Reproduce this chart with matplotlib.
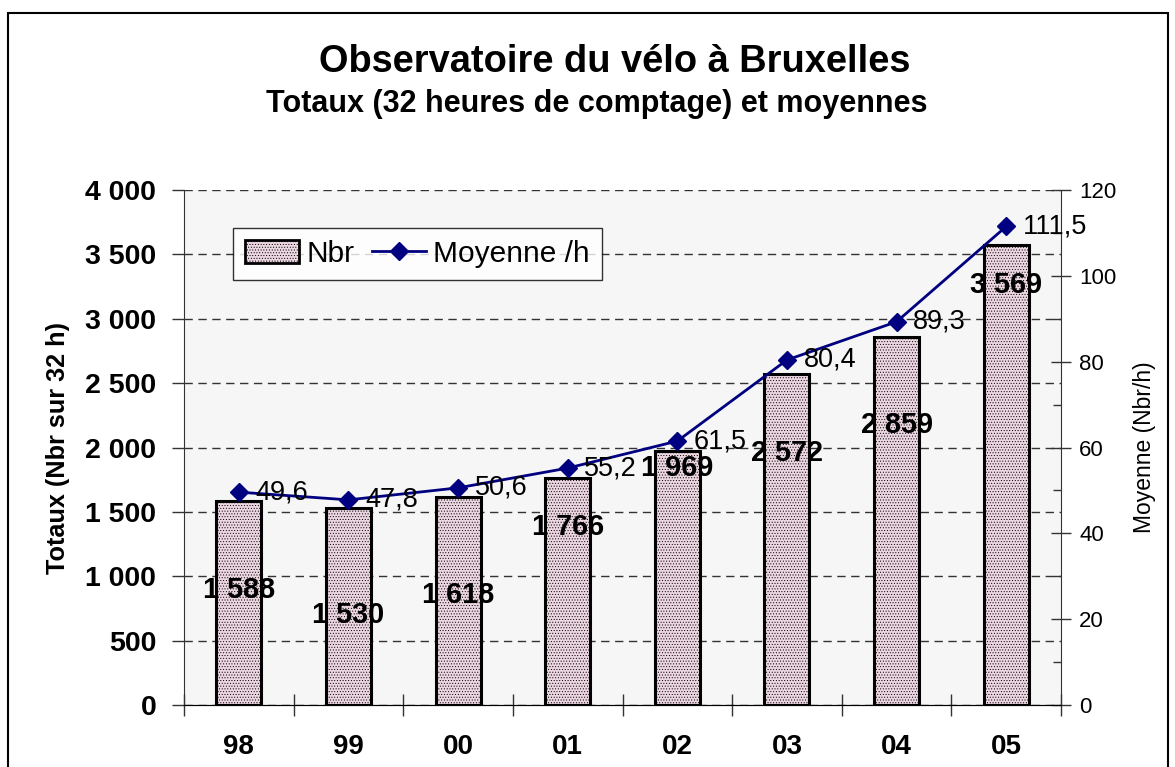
import numpy as np
import matplotlib.pyplot as plt
from matplotlib.patches import Rectangle, Patch
from matplotlib.lines import Line2D
from matplotlib.ticker import FuncFormatter, MultipleLocator

# Data
years = ["98", "99", "00", "01", "02", "03", "04", "05"]
totals = [1588, 1530, 1618, 1766, 1969, 2572, 2859, 3569]
means = [49.6, 47.8, 50.6, 55.2, 61.5, 80.4, 89.3, 111.5]

# where the bold total labels sit (in left-axis units), as placed in the original
total_label_y = [890, 700, 855, 1380, 1840, 1955, 2175, 3265]

plt.rcParams.update({
    "font.family": ["Liberation Sans", "DejaVu Sans"],
    "hatch.color": "#e0c4d2",
    "hatch.linewidth": 0.4,
})

BAR_COLOR = "#ecd6e1"
LINE_COLOR = "#000080"


def fmt_thousands(v, pos=None):
    return f"{int(v):,}".replace(",", " ")


def fmt_dec(v):
    return f"{v:.1f}".replace(".", ",")


fig = plt.figure(figsize=(11.75, 7.67), dpi=100)
ax = fig.add_axes([0.1566, 0.0808, 0.7464, 0.6715])
ax2 = ax.twinx()

# outer chart frame
fig.patches.append(Rectangle((0.0068, -0.05), 0.9872, 1.0332, transform=fig.transFigure,
                             fill=False, edgecolor="black", linewidth=1.5))

x = np.arange(len(years))
ax.set_facecolor("#f6f6f6")
ax.set_axisbelow(True)
ax.bar(x, totals, width=0.41, color=BAR_COLOR, edgecolor="black", linewidth=2.2,
       hatch="......", zorder=2)

ax.set_xlim(-0.5, len(years) - 0.5)
ax.set_ylim(0, 4000)
ax.yaxis.set_major_locator(MultipleLocator(500))
ax.yaxis.set_major_formatter(FuncFormatter(fmt_thousands))
ax.yaxis.grid(True, linestyle=(0, (6, 4)), color="#333333", linewidth=1.0)

# category labels between boundary ticks
ax.set_xticks(np.arange(len(years) + 1) - 0.5)
ax.set_xticklabels([])
ax.set_xticks(x, minor=True)
ax.set_xticklabels(years, minor=True, fontsize=20, fontweight="bold")
ax.tick_params(axis="x", which="minor", length=0, pad=21)
ax.tick_params(axis="x", which="major", direction="inout", length=16, width=1, color="#333333")
ax.tick_params(axis="y", direction="out", length=9, width=1, labelsize=20.5, pad=11,
               color="#333333")
for lab in ax.get_yticklabels():
    lab.set_fontweight("bold")

ax.set_ylabel("Totaux (Nbr sur 32 h)", fontsize=18.2, fontweight="bold", labelpad=11)

ax.spines["top"].set_visible(False)
ax2.spines["top"].set_visible(False)
ax.spines["left"].set_color("#333333")
ax.spines["bottom"].set_color("#333333")
ax.spines["right"].set_visible(False)
ax2.spines["left"].set_visible(False)
ax2.spines["right"].set_color("#333333")

for xi, v, ly in zip(x, totals, total_label_y):
    ax.text(xi, ly, fmt_thousands(v), ha="center", va="center", fontsize=20.8,
            fontweight="bold", color="black", zorder=4)

# right axis: hourly mean
ax2.plot(x, means, color=LINE_COLOR, linewidth=2, marker="D", markersize=9,
         markerfacecolor=LINE_COLOR, markeredgecolor=LINE_COLOR, zorder=5)
ax2.set_ylim(0, 120)
ax2.yaxis.set_major_locator(MultipleLocator(20))
ax2.yaxis.set_minor_locator(MultipleLocator(10))
ax2.tick_params(axis="y", which="major", direction="inout", length=14, width=1,
                labelsize=16, pad=6, color="#333333")
ax2.tick_params(axis="y", which="minor", direction="in", length=6, width=1, color="#333333")
ax2.set_ylabel("Moyenne (Nbr/h)", fontsize=16.5, labelpad=12)

for xi, v in zip(x, means):
    ax2.annotate(fmt_dec(v), (xi, v), xytext=(12, 0), textcoords="offset points",
                 ha="left", va="center", fontsize=19.5, color="black", zorder=6)

# legend
handles = [
    Patch(facecolor=BAR_COLOR, edgecolor="black", linewidth=2, hatch="......"),
    Line2D([], [], color=LINE_COLOR, linewidth=2, marker="D", markersize=9),
]
leg = ax2.legend(handles, ["Nbr", "Moyenne /h"], loc="upper left",
                 bbox_to_anchor=(0.056, 0.926), borderaxespad=0, ncol=2,
                 fontsize=21.5, frameon=True, fancybox=False, handlelength=1.8,
                 handleheight=0.8, handletextpad=0.25, columnspacing=0.6, borderpad=0.4)
leg.get_frame().set_edgecolor("black")
leg.get_frame().set_linewidth(1.0)
leg.get_frame().set_facecolor("white")

fig.text(0.523, 0.919, "Observatoire du vélo à Bruxelles", ha="center", va="center",
         fontsize=27.4, fontweight="bold")
fig.text(0.508, 0.865, "Totaux (32 heures de comptage) et moyennes", ha="center",
         va="center", fontsize=22, fontweight="bold")

fig.savefig("out.png", dpi=100, facecolor="white")
